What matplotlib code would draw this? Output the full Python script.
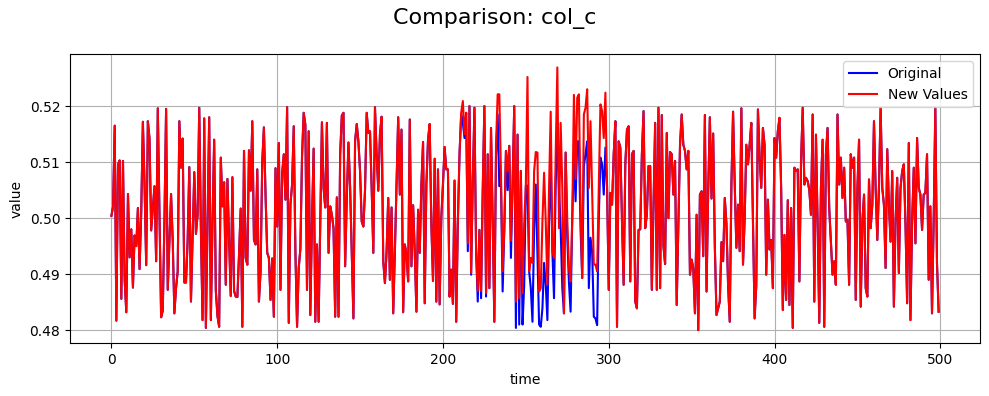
import numpy as np
import matplotlib
matplotlib.use('Agg')
import matplotlib.pyplot as plt

# values (col_c, 500 samples)
original = [
    0.5004, 0.5020, 0.5165, 0.4817, 0.5096, 0.5103, 0.4856, 0.5102, 0.4890, 0.4832,
    0.5043, 0.4930, 0.4980, 0.4876, 0.4969, 0.4950, 0.5018, 0.4909, 0.5010, 0.5172,
    0.5060, 0.4916, 0.5173, 0.5142, 0.4978, 0.5018, 0.5057, 0.4923, 0.5196, 0.5010,
    0.4823, 0.4835, 0.4995, 0.5195, 0.4872, 0.4960, 0.5043, 0.4960, 0.4830, 0.4875,
    0.4905, 0.5173, 0.5090, 0.5142, 0.4885, 0.4885, 0.4960, 0.5091, 0.4851, 0.4970,
    0.5082, 0.4972, 0.5005, 0.5197, 0.4980, 0.4818, 0.5178, 0.4804, 0.4995, 0.5180,
    0.4818, 0.4995, 0.5140, 0.4870, 0.4825, 0.4806, 0.5108, 0.5021, 0.5064, 0.4881,
    0.5070, 0.4960, 0.4861, 0.5073, 0.4870, 0.4860, 0.4859, 0.4935, 0.5017, 0.4806,
    0.5120, 0.4929, 0.4917, 0.5121, 0.5049, 0.5173, 0.4961, 0.4953, 0.5087, 0.4851,
    0.4905, 0.5100, 0.5162, 0.5040, 0.4938, 0.4929, 0.4854, 0.4928, 0.4824, 0.5089,
    0.4985, 0.5134, 0.4872, 0.5080, 0.5114, 0.5033, 0.5198, 0.4813, 0.5024, 0.5060,
    0.5164, 0.4940, 0.4806, 0.4911, 0.4945, 0.5110, 0.5188, 0.5167, 0.4872, 0.5155,
    0.4827, 0.4994, 0.5124, 0.4815, 0.4953, 0.4815, 0.4994, 0.5171, 0.5054, 0.5019,
    0.5170, 0.4938, 0.5021, 0.5006, 0.4982, 0.4824, 0.5037, 0.4824, 0.5114, 0.5183,
    0.5188, 0.4914, 0.5036, 0.5135, 0.5054, 0.4935, 0.4821, 0.5137, 0.5168, 0.5137,
    0.5084, 0.4994, 0.4985, 0.5050, 0.5188, 0.5152, 0.5155, 0.5054, 0.4938, 0.5198,
    0.5114, 0.5049, 0.5150, 0.5181, 0.4923, 0.4884, 0.4940, 0.5036, 0.4890, 0.5019,
    0.4830, 0.4940, 0.5060, 0.5180, 0.5042, 0.5158, 0.4832, 0.4953, 0.4935, 0.4887,
    0.5176, 0.4914, 0.5023, 0.4940, 0.4833, 0.5015, 0.4938, 0.5060, 0.5136, 0.4848,
    0.5060, 0.5140, 0.5168, 0.4990, 0.4888, 0.5106, 0.4851, 0.5087, 0.4846, 0.5000,
    0.5060, 0.5127, 0.5087, 0.5087, 0.4860, 0.4908, 0.4847, 0.5067, 0.4815, 0.4995,
    0.5114, 0.5185, 0.5170, 0.5143, 0.5188, 0.4941, 0.5200, 0.4899, 0.5067, 0.5197,
    0.4940, 0.4851, 0.4979, 0.4857, 0.5050, 0.5200, 0.4860, 0.5114, 0.4875, 0.5161,
    0.4995, 0.4815, 0.5110, 0.5185, 0.5057, 0.5060, 0.4869, 0.4979, 0.5120, 0.5050,
    0.5129, 0.4929, 0.5060, 0.5200, 0.4804, 0.5149, 0.4810, 0.5084, 0.4810, 0.4880,
    0.5058, 0.5058, 0.4905, 0.4875, 0.4815, 0.4980, 0.5060, 0.4938, 0.4810, 0.4806,
    0.4839, 0.4920, 0.4881, 0.4818, 0.4990, 0.5110, 0.4940, 0.4857, 0.5060, 0.5155,
    0.5054, 0.4982, 0.4875, 0.4830, 0.5117, 0.4965, 0.4885, 0.4833, 0.5000, 0.5113,
    0.5030, 0.5137, 0.5137, 0.4980, 0.4893, 0.5093, 0.5114, 0.5137, 0.4875, 0.4965,
    0.4940, 0.4824, 0.4821, 0.4809, 0.5000, 0.5108, 0.5096, 0.5042, 0.5126, 0.5054,
    0.4872, 0.5045, 0.5024, 0.5114, 0.5173, 0.4806, 0.5137, 0.5126, 0.4994, 0.4881,
    0.5096, 0.5158, 0.5164, 0.4887, 0.5114, 0.5120, 0.4851, 0.4839, 0.4979, 0.4980,
    0.5114, 0.5191, 0.4982, 0.5006, 0.5093, 0.5093, 0.4872, 0.5018, 0.5170, 0.4872,
    0.5197, 0.4875, 0.5184, 0.4950, 0.4918, 0.5152, 0.5000, 0.5118, 0.5114, 0.5042,
    0.5102, 0.4845, 0.4990, 0.5130, 0.5185, 0.5131, 0.5120, 0.5087, 0.5120, 0.4899,
    0.4926, 0.4910, 0.4830, 0.5006, 0.4800, 0.5042, 0.5048, 0.4932, 0.5184, 0.4869,
    0.5050, 0.5180, 0.5035, 0.5151, 0.4950, 0.4827, 0.4839, 0.4851, 0.4957, 0.4923,
    0.5036, 0.4990, 0.4880, 0.4815, 0.5060, 0.5190, 0.5060, 0.4947, 0.5024, 0.4941,
    0.5196, 0.4917, 0.5000, 0.5131, 0.5096, 0.5131, 0.5170, 0.4990, 0.4821, 0.4880,
    0.5194, 0.5110, 0.5054, 0.5161, 0.5131, 0.4899, 0.5033, 0.4944, 0.4961, 0.4875,
    0.5143, 0.5108, 0.5155, 0.5179, 0.5054, 0.4836, 0.4970, 0.4854, 0.5032, 0.4845,
    0.5018, 0.4804, 0.5090, 0.5084, 0.5087, 0.4887, 0.5100, 0.5197, 0.5060, 0.5072,
    0.5066, 0.5050, 0.5006, 0.5185, 0.4851, 0.5149, 0.4990, 0.4813, 0.5054, 0.5140,
    0.4806, 0.5114, 0.5161, 0.5018, 0.4960, 0.4899, 0.4923, 0.4881, 0.5185, 0.5060,
    0.5108, 0.5036, 0.5090, 0.4994, 0.4997, 0.4881, 0.5114, 0.5090, 0.5108, 0.4854,
    0.5054, 0.5140, 0.4842, 0.4994, 0.5042, 0.4875, 0.4860, 0.5069, 0.4982, 0.5024,
    0.5173, 0.5054, 0.4961, 0.5054, 0.5197, 0.5054, 0.5024, 0.4911, 0.5123, 0.5024,
    0.4958, 0.5084, 0.4842, 0.4994, 0.5072, 0.4902, 0.5054, 0.5084, 0.5096, 0.4990,
    0.4848, 0.5134, 0.4818, 0.4994, 0.5090, 0.4955, 0.5143, 0.5054, 0.5042, 0.4979,
    0.5042, 0.5045, 0.5114, 0.4890, 0.5021, 0.4830, 0.4994, 0.5197, 0.4920, 0.4833,
]

# the new values only differ from the original between t=211 and t=298
seg_start = 211
new_segment = [
    0.5188, 0.5209, 0.5150, 0.5188, 0.4955, 0.5200, 0.4902, 0.5067, 0.5197, 0.4940,
    0.4870, 0.4979, 0.4870, 0.5050, 0.5200, 0.4866, 0.5114, 0.4875, 0.5161, 0.4995,
    0.4815, 0.5130, 0.5221, 0.5221, 0.5080, 0.4905, 0.4979, 0.5120, 0.5084, 0.5129,
    0.4960, 0.5060, 0.5200, 0.4851, 0.5149, 0.4857, 0.5084, 0.4866, 0.4990, 0.5058,
    0.5252, 0.4905, 0.4929, 0.4920, 0.5084, 0.5118, 0.5117, 0.4869, 0.4875, 0.4994,
    0.5081, 0.4994, 0.4881, 0.5054, 0.5190, 0.4940, 0.4929, 0.5114, 0.5269, 0.4982,
    0.5170, 0.5054, 0.4830, 0.5117, 0.4994, 0.4911, 0.4887, 0.5000, 0.5220, 0.5070,
    0.5215, 0.5221, 0.5020, 0.4893, 0.5185, 0.5197, 0.5230, 0.5054, 0.5173, 0.5042,
    0.4917, 0.4917, 0.4905, 0.5054, 0.5203, 0.5191, 0.5143, 0.5224,
]

new_values = original[:seg_start] + new_segment + original[seg_start + len(new_segment):]
time = np.arange(len(original))

fig, ax = plt.subplots(figsize=(9.89, 3.96), dpi=100)
ax.plot(time, original, color='blue', label='Original')
ax.plot(time, new_values, color='red', label='New Values')

fig.suptitle('Comparison: col_c', fontsize=16)
ax.set_xlabel('time')
ax.set_ylabel('value')
ax.grid(True)
ax.legend(loc='upper right')

fig.subplots_adjust(left=0.0708, right=0.9909, top=0.8629, bottom=0.1331)
fig.savefig('out.png')
